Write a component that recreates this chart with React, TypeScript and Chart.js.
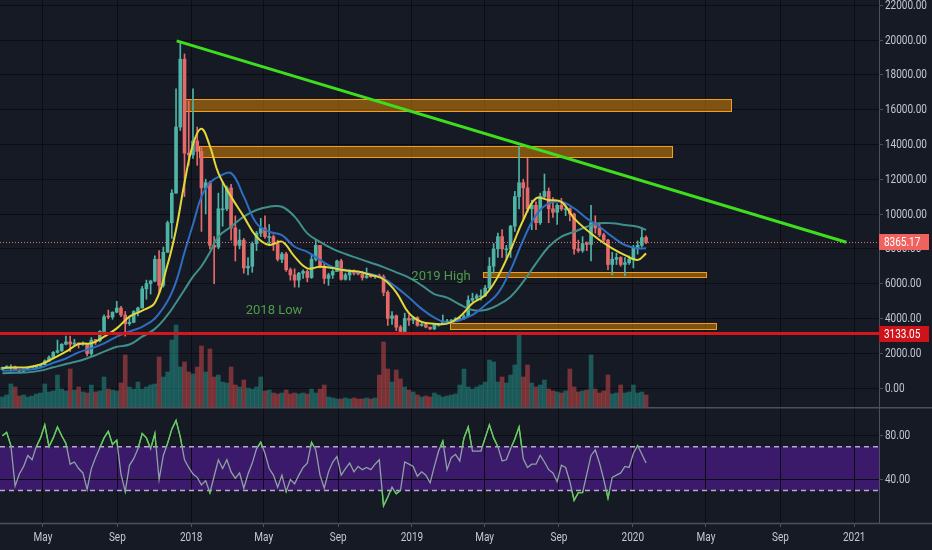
import { useEffect, useRef } from "react";
import Chart from "chart.js/auto";

// ---- colours / fonts ----
const BG = "#161a25";
const GRID = "#0b0d13";
const AXIS = "#4c505b";
const TEXT = "#c5c8ce";
const LABEL_FONT = "12.5px Roboto";

// ---- view window & time axis ----
const VIEW_FROM = "2017-02-19";
const VIEW_TO = "2021-02-11";
const tickDates = ["2017-05-01", "2017-09-01", "2018-01-01", "2018-05-01", "2018-09-01", "2019-01-01", "2019-05-01", "2019-09-01", "2020-01-01", "2020-05-01", "2020-09-01", "2021-01-01"];
const tickLabels = ["May", "Sep", "2018", "May", "Sep", "2019", "May", "Sep", "2020", "May", "Sep", "2021"];
const priceTicks = [0, 2000, 4000, 6000, 8000, 10000, 12000, 14000, 16000, 18000, 20000, 22000];
const rsiTicks = [40, 80];

// ---- weekly BTC/USD candles, first week starting 2017-02-20 ----
const FIRST_WEEK = "2017-02-20";
const FIRST_OPEN = 1050;
const weekHighs = [
  1210, 1290, 1330, 1260, 1060, 1100, 1210, 1210, 1260, 1350,
  1620, 1850, 2100, 2760, 2550, 2980, 2980, 2800, 2600, 2650,
  2530, 2900, 2800, 3300, 4200, 4480, 4380, 4980, 4700, 4400,
  4100, 4450, 4650, 5850, 6200, 6200, 7600, 7900, 8100, 9600,
  11400, 17200, 19800, 19200, 16500, 17200, 15000, 13900, 12000, 11900,
  8700, 11200, 11800, 11600, 11700, 9900, 9100, 8600, 7500, 8400,
  9000, 9750, 9900, 9400, 8800, 8500, 7800, 7800, 6900, 6850,
  6650, 6800, 6800, 7700, 8500, 8200, 7150, 6600, 6800, 7350,
  7400, 6600, 6800, 6800, 6700, 6700, 6900, 6500, 6500, 6550,
  6500, 5600, 4400, 4200, 3600, 4300, 4200, 4100, 4100, 3750,
  3700, 3500, 3700, 3700, 4200, 3950, 3950, 4050, 4100, 4200,
  5300, 5450, 5400, 5650, 5900, 7500, 8300, 8900, 9100, 8200,
  9350, 11300, 13880, 12000, 13200, 10800, 10700, 11200, 12300, 11500,
  10950, 10600, 10900, 10450, 10350, 10050, 8500, 8700, 8400, 10500,
  9900, 9500, 8900, 8550, 7800, 7750, 7550, 7500, 7600, 8200,
  8450, 9200, 8750,
];
const weekLows = [
  1040, 1170, 970, 1000, 890, 940, 1070, 1160, 1170, 1230,
  1330, 1540, 1680, 2000, 2100, 2480, 2100, 2450, 2300, 2450,
  1850, 1850, 2500, 2650, 3250, 3980, 3950, 4320, 4100, 2980,
  3600, 3750, 4150, 4600, 5100, 5400, 6100, 5500, 5800, 7800,
  8600, 11200, 14800, 11000, 12800, 13200, 12800, 9000, 10000, 8000,
  6000, 8000, 9300, 10200, 8500, 7300, 8000, 6600, 6500, 6650,
  7900, 8700, 8600, 8200, 7900, 7300, 7200, 6700, 6200, 5800,
  5800, 6300, 6100, 6300, 7300, 6900, 6000, 5900, 6300, 6700,
  6200, 6200, 6200, 6500, 6500, 6200, 6300, 6350, 6300, 6350,
  5300, 3600, 3650, 3300, 3200, 3250, 3600, 3700, 3550, 3550,
  3450, 3350, 3350, 3550, 3650, 3750, 3700, 3850, 3950, 3950,
  4100, 4950, 5050, 5050, 5250, 5700, 6600, 7500, 7500, 7450,
  7500, 9000, 10300, 9700, 10100, 9100, 9100, 9400, 10900, 9500,
  9800, 9400, 10200, 9900, 9600, 7700, 7800, 7800, 7900, 7300,
  8900, 8700, 8300, 6800, 6500, 7100, 7000, 6450, 7100, 6900,
  7700, 8100, 8300,
];
const weekCloses = [
  1190, 1230, 1230, 1020, 965, 1085, 1170, 1180, 1250, 1340,
  1560, 1760, 2050, 2150, 2520, 2650, 2520, 2590, 2500, 2520,
  1980, 2750, 2730, 3250, 4100, 4080, 4360, 4600, 4200, 3700,
  3780, 4400, 4600, 5700, 6000, 6150, 7400, 5900, 7800, 9500,
  11200, 15000, 18900, 13500, 13400, 14200, 13600, 11500, 11800, 8200,
  8100, 10300, 10300, 11500, 9200, 8200, 8500, 6900, 7000, 8300,
  8900, 9200, 8700, 8700, 8300, 7400, 7700, 6800, 6500, 6200,
  6600, 6700, 6350, 7400, 8200, 7000, 6300, 6500, 6700, 7300,
  6250, 6500, 6700, 6600, 6550, 6350, 6450, 6400, 6450, 6400,
  5500, 4000, 4150, 3500, 3250, 4000, 3900, 4050, 3600, 3650,
  3500, 3400, 3650, 3650, 3850, 3850, 3900, 4000, 4000, 4100,
  5050, 5150, 5300, 5300, 5750, 7000, 8000, 8700, 8000, 8000,
  9300, 11000, 11800, 11500, 10300, 10500, 9500, 11000, 11300, 10300,
  10100, 10500, 10300, 10300, 10000, 8000, 7900, 8300, 8250, 9500,
  9200, 8800, 8500, 7100, 7400, 7500, 7100, 7200, 7400, 8050,
  8200, 8650, 8365.17,
];
// relative volume
const weekVolumes = [
  10, 12, 23, 20, 11, 12, 10, 11, 13, 14,
  23, 15, 16, 32, 18, 16, 38, 17, 20, 15,
  14, 22, 15, 16, 30, 18, 17, 16, 24, 52,
  20, 18, 25, 18, 20, 22, 23, 50, 30, 35,
  67, 82, 40, 45, 35, 33, 40, 61, 35, 58,
  30, 32, 25, 24, 40, 22, 20, 27, 19, 18,
  20, 30, 16, 17, 14, 13, 14, 17, 13, 14,
  13, 14, 13, 18, 14, 18, 22, 10, 9, 8,
  8, 9, 8, 9, 8, 8, 9, 8, 9, 32,
  65, 38, 25, 37, 28, 20, 17, 15, 12, 10,
  11, 10, 14, 12, 10, 11, 12, 13, 22, 38,
  20, 18, 20, 22, 25, 47, 45, 25, 30, 24,
  32, 42, 73, 30, 42, 24, 20, 22, 27, 18,
  16, 15, 14, 16, 38, 20, 15, 16, 17, 52,
  18, 14, 16, 32, 13, 14, 22, 14, 15, 22,
  14, 15, 12,
];
const weekRsi = [
  80, 83, 71, 34, 45, 52, 62, 58, 70, 78,
  90, 70, 78, 88, 80, 73, 54, 56, 50, 46,
  31, 50, 60, 69, 78, 84, 72, 76, 45, 29,
  53, 59, 68, 82, 78, 68, 82, 40, 62, 73,
  86, 94, 79, 58, 51, 45, 42, 35, 39, 28,
  43, 58, 50, 58, 47, 41, 46, 32, 45, 55,
  68, 74, 64, 50, 44, 33, 44, 29, 40, 36,
  44, 51, 55, 74, 67, 44, 32, 47, 56, 61,
  44, 50, 55, 47, 52, 49, 51, 49, 54, 58,
  16, 24, 33, 27, 30, 56, 54, 52, 43, 47,
  44, 37, 52, 66, 75, 49, 60, 63, 57, 78,
  88, 66, 66, 66, 78, 90, 78, 70, 57, 58,
  68, 77, 88, 59, 51, 54, 54, 62, 56, 49,
  46, 38, 53, 51, 38, 21, 28, 28, 45, 62,
  67, 55, 40, 23, 42, 44, 46, 52, 51, 64,
  71, 63, 55,
];

// ---- moving averages (read at these weeks) ----
const maWeeks = [0, 3, 6, 9, 12, 15, 18, 21, 24, 27, 30, 33, 36, 39, 41, 43, 45, 47, 49, 51, 54, 57, 60, 63, 66, 69, 72, 75, 78, 81, 84, 87, 90, 93, 96, 99, 102, 105, 108, 111, 114, 117, 120, 123, 126, 129, 132, 135, 138, 141, 144, 147, 150, 152];
const maFast = [1150, 1180, 1200, 1360, 1700, 2090, 2530, 2570, 2950, 3430, 4100, 4450, 4900, 7100, 9100, 11800, 14000, 14900, 13900, 12350, 11000, 9850, 8700, 8220, 8410, 7550, 6880, 6970, 6900, 6750, 6700, 6500, 6250, 5500, 4300, 3800, 3700, 3700, 4100, 4870, 5340, 6400, 7930, 9660, 10900, 10800, 10700, 9750, 9080, 8510, 8030, 7640, 7360, 7740];
const maMid = [1000, 1020, 1050, 1170, 1450, 1700, 2050, 2280, 2570, 2950, 3250, 3520, 4000, 5000, 6100, 7800, 9400, 11000, 11800, 12140, 12350, 11000, 9470, 8980, 8790, 8120, 7830, 7360, 6950, 6800, 6650, 6550, 6300, 5800, 5200, 4550, 4050, 3750, 3900, 4200, 4770, 5440, 6780, 8510, 9940, 10610, 10700, 10330, 9750, 9270, 8700, 8220, 8030, 8030];
const maSlow = [850, 880, 900, 1000, 1190, 1380, 1550, 1800, 2090, 2370, 2500, 2950, 3400, 4200, 4900, 5650, 6400, 7000, 7800, 8700, 9270, 9850, 10230, 10420, 10420, 9850, 8890, 8400, 8000, 7700, 7450, 7200, 6950, 6650, 6350, 5900, 5400, 5200, 4800, 4480, 4480, 4770, 5250, 6110, 7160, 8120, 8700, 8980, 9270, 9470, 9470, 9370, 9270, 9080];

// ---- drawings ----
const zoneFrom = ["2017-12-22", "2018-01-14", "2019-04-28", "2019-03-05"];
const zoneTo = ["2020-06-12", "2020-03-06", "2020-05-01", "2020-05-18"];
const zoneTop = [16610, 13910, 6670, 3740];
const zoneBottom = [15920, 13270, 6380, 3390];

const trendDates = ["2017-12-08", "2020-12-19"];
const trendPrices = [19950, 8380];

const SUPPORT = 3133.05;
const LAST_PRICE = 8365.17;

const noteTexts = ["2018 Low", "2019 High"];
const noteDates = ["2018-05-18", "2019-02-18"];
const notePrices = [4430, 6380];

const RSI_UPPER = 70;
const RSI_LOWER = 30;

// ---- helpers ----
const dayOf = (s: string) =>
  (Date.parse(s + "T00:00:00Z") - Date.parse("2017-01-01T00:00:00Z")) / 86400000;
const weekDay = (i: number) => dayOf(FIRST_WEEK) + 7 * i + 3;

const opens = weekCloses.map((_, i) => (i === 0 ? FIRST_OPEN : weekCloses[i - 1]));
const isUp = weekCloses.map((c, i) => c >= opens[i]);
const candleColors = isUp.map(u => (u ? "#4fb3a6" : "#e46a69"));
const volumeColors = isUp.map(u => (u ? "rgba(38,166,154,0.45)" : "rgba(239,83,80,0.45)"));

// TradingView-like narrow labels
const narrowText = (ctx: CanvasRenderingContext2D, text: string, x: number, y: number, align: CanvasTextAlign, color: string) => {
  ctx.save();
  ctx.translate(x, y);
  ctx.scale(0.8, 1);
  ctx.font = LABEL_FONT;
  ctx.fillStyle = color;
  ctx.textAlign = align;
  ctx.textBaseline = "middle";
  ctx.fillText(text, 0, 0);
  ctx.restore();
};

const noPadding = (s: any) => {
  s.paddingTop = 0;
  s.paddingBottom = 0;
  s.paddingLeft = 0;
  s.paddingRight = 0;
};

const xScale = (withAxis: boolean) => ({
  type: "linear",
  min: dayOf(VIEW_FROM),
  max: dayOf(VIEW_TO),
  offset: false,
  grid: { color: GRID, offset: false, drawTicks: withAxis, tickLength: 4, tickColor: AXIS },
  border: { display: withAxis, color: AXIS },
  ticks: { display: false, autoSkip: false },
  afterBuildTicks: (s: any) => {
    s.ticks = tickDates.map(t => ({ value: dayOf(t) }));
  },
  afterFit: (s: any) => {
    s.height = withAxis ? 27 : 0;
    noPadding(s);
  },
});

const valueAxis = (min: number, max: number, ticks: number[]) => ({
  position: "right",
  min,
  max,
  grid: { color: GRID, tickColor: AXIS, tickLength: 4 },
  border: { color: AXIS },
  ticks: { display: false },
  afterBuildTicks: (s: any) => {
    s.ticks = ticks.map(v => ({ value: v }));
  },
  afterFit: (s: any) => {
    s.width = 53;
    noPadding(s);
  },
});

const axisLabels = {
  id: "axisLabels",
  afterDraw(chart: any) {
    const { ctx, scales, chartArea } = chart;
    scales.y.ticks.forEach((t: any) => {
      narrowText(ctx, t.value.toFixed(2), chartArea.right + 6, scales.y.getPixelForValue(t.value) + 0.5, "left", TEXT);
    });
    if (scales.x.options.border.display) {
      scales.x.ticks.forEach((t: any, i: number) => {
        narrowText(ctx, tickLabels[i], scales.x.getPixelForValue(t.value), chartArea.bottom + 15, "center", TEXT);
      });
    }
  },
};

const line = (data: { x: number; y: number }[], color: string, width: number, order: number, extra = {}) => ({
  type: "line",
  data,
  borderColor: color,
  borderWidth: width,
  pointRadius: 0,
  order,
  ...extra,
});

// zones under the candles, notes over them, price tags on the axis
const priceDrawings = {
  id: "priceDrawings",
  beforeDatasetsDraw(chart: any) {
    const { ctx, scales } = chart;
    ctx.save();
    zoneFrom.forEach((from, k) => {
      const x1 = Math.round(scales.x.getPixelForValue(dayOf(from)));
      const x2 = Math.round(scales.x.getPixelForValue(dayOf(zoneTo[k])));
      const y1 = Math.round(scales.y.getPixelForValue(zoneTop[k]));
      const y2 = Math.round(scales.y.getPixelForValue(zoneBottom[k]));
      ctx.fillStyle = "rgba(255,152,0,0.45)";
      ctx.fillRect(x1, y1, x2 - x1, y2 - y1);
      ctx.strokeStyle = "#f59d1a";
      ctx.lineWidth = 1;
      ctx.strokeRect(x1 + 0.5, y1 + 0.5, x2 - x1, y2 - y1);
    });
    ctx.restore();
  },
  afterDatasetsDraw(chart: any) {
    const { ctx, scales } = chart;
    ctx.save();
    ctx.font = "13px Roboto";
    ctx.fillStyle = "#4f9c4a";
    ctx.textAlign = "center";
    ctx.textBaseline = "middle";
    noteTexts.forEach((t, k) => {
      ctx.fillText(t, scales.x.getPixelForValue(dayOf(noteDates[k])), scales.y.getPixelForValue(notePrices[k]));
    });
    ctx.restore();
  },
  afterDraw(chart: any) {
    const { ctx, scales, chartArea } = chart;
    [
      { v: LAST_PRICE, bg: "#f0625f" },
      { v: SUPPORT, bg: "#d0121a" },
    ].forEach(tag => {
      const y = Math.round(scales.y.getPixelForValue(tag.v));
      ctx.fillStyle = tag.bg;
      ctx.fillRect(chartArea.right, y - 8, 50, 16);
      narrowText(ctx, tag.v.toFixed(2), chartArea.right + 5, y + 0.5, "left", "#ffffff");
    });
  },
};

const rsiDrawings = {
  id: "rsiDrawings",
  beforeDraw(chart: any) {
    const { ctx, scales, chartArea } = chart;
    const yTop = scales.y.getPixelForValue(RSI_UPPER);
    const yBot = scales.y.getPixelForValue(RSI_LOWER);
    ctx.save();
    ctx.fillStyle = "#3b1a6b";
    ctx.fillRect(chartArea.left, yTop, chartArea.right - chartArea.left, yBot - yTop);
    ctx.restore();
  },
  beforeDatasetsDraw(chart: any) {
    const { ctx, scales, chartArea } = chart;
    ctx.save();
    ctx.strokeStyle = "#b7a9cc";
    ctx.lineWidth = 1.5;
    ctx.setLineDash([5, 4]);
    [RSI_UPPER, RSI_LOWER].forEach(v => {
      const y = scales.y.getPixelForValue(v);
      ctx.beginPath();
      ctx.moveTo(chartArea.left, y);
      ctx.lineTo(chartArea.right, y);
      ctx.stroke();
    });
    ctx.restore();
  },
  beforeDatasetDraw(chart: any, args: any) {
    if (args.index !== 1) return;
    const { ctx, scales, chartArea } = chart;
    const yTop = scales.y.getPixelForValue(RSI_UPPER);
    const yBot = scales.y.getPixelForValue(RSI_LOWER);
    const w = chartArea.right - chartArea.left;
    ctx.save();
    ctx.beginPath();
    ctx.rect(chartArea.left, chartArea.top, w, yTop - chartArea.top);
    ctx.rect(chartArea.left, yBot, w, chartArea.bottom - yBot);
    ctx.clip();
  },
  afterDatasetDraw(chart: any, args: any) {
    if (args.index !== 1) return;
    chart.ctx.restore();
  },
  afterDraw(chart: any) {
    const { ctx, chartArea, width } = chart;
    ctx.save();
    ctx.strokeStyle = AXIS;
    ctx.lineWidth = 1.5;
    ctx.beginPath();
    ctx.moveTo(0, 0.75);
    ctx.lineTo(width, 0.75);
    ctx.moveTo(0, chartArea.bottom + 0.5);
    ctx.lineTo(width, chartArea.bottom + 0.5);
    ctx.stroke();
    ctx.restore();
  },
};

const PriceChart = () => {
  const canvasRef = useRef<HTMLCanvasElement | null>(null);

  useEffect(() => {
    if (!canvasRef.current) return;
    const xMin = dayOf(VIEW_FROM);
    const xMax = dayOf(VIEW_TO);
    const maPoints = (vals: number[]) => maWeeks.map((w, k) => ({ x: weekDay(w), y: vals[k] }));

    const chart = new Chart(canvasRef.current, {
      type: "bar",
      data: {
        datasets: [
          line(trendDates.map((d, k) => ({ x: dayOf(d), y: trendPrices[k] })), "#3ede1e", 3, 0),
          line([{ x: xMin, y: SUPPORT }, { x: xMax, y: SUPPORT }], "#d3171c", 3, 1),
          line([{ x: xMin, y: LAST_PRICE }, { x: xMax, y: LAST_PRICE }], "#e57373", 1, 2, { borderDash: [1, 2] }),
          line(maPoints(maFast), "#e3d83a", 2, 3, { tension: 0.4 }),
          line(maPoints(maMid), "#2d6ec2", 2, 4, { tension: 0.4 }),
          line(maPoints(maSlow), "#3f8f8a", 2, 5, { tension: 0.4 }),
          {
            type: "bar",
            data: weekCloses.map((c, i) => ({ x: weekDay(i), y: [opens[i], c] })),
            backgroundColor: candleColors,
            barThickness: 3,
            minBarLength: 1,
            grouped: false,
            order: 6,
          },
          {
            type: "bar",
            data: weekHighs.map((h, i) => ({ x: weekDay(i), y: [weekLows[i], h] })),
            backgroundColor: candleColors,
            barThickness: 1,
            grouped: false,
            order: 7,
          },
          {
            type: "bar",
            data: weekVolumes.map((v, i) => ({ x: weekDay(i), y: v })),
            backgroundColor: volumeColors,
            barThickness: 4,
            grouped: false,
            yAxisID: "vol",
            order: 8,
          },
        ],
      } as any,
      options: {
        animation: false,
        responsive: true,
        maintainAspectRatio: false,
        events: [],
        layout: { padding: 0, autoPadding: false },
        plugins: { legend: { display: false }, tooltip: { enabled: false } },
        scales: {
          x: xScale(false),
          y: valueAxis(-1090, 22300, priceTicks),
          vol: { axis: "y", type: "linear", position: "left", display: false, min: 0, max: 407 },
        },
      } as any,
      plugins: [axisLabels, priceDrawings],
    });

    return () => {
      chart.destroy();
    };
  }, []);

  return (
    <div style={{ position: "relative", width: 932, height: 407 }}>
      <canvas ref={canvasRef} />
    </div>
  );
};

const RsiChart = () => {
  const canvasRef = useRef<HTMLCanvasElement | null>(null);

  useEffect(() => {
    if (!canvasRef.current) return;
    const points = weekRsi.map((v, i) => ({ x: weekDay(i), y: v }));

    const chart = new Chart(canvasRef.current, {
      type: "line",
      data: {
        datasets: [
          line(points, "#8ea2a3", 1.3, 1),
          line(points, "#5fd155", 1.3, 0),
        ],
      } as any,
      options: {
        animation: false,
        responsive: true,
        maintainAspectRatio: false,
        events: [],
        layout: { padding: { top: 1 }, autoPadding: false },
        plugins: { legend: { display: false }, tooltip: { enabled: false } },
        scales: {
          x: xScale(true),
          y: valueAxis(0.3, 105.3, rsiTicks),
        },
      } as any,
      plugins: [rsiDrawings, axisLabels],
    });

    return () => {
      chart.destroy();
    };
  }, []);

  return (
    <div style={{ position: "relative", width: 932, height: 143 }}>
      <canvas ref={canvasRef} />
    </div>
  );
};

export default function App() {
  return (
    <div style={{ position: "absolute", left: 0, top: 0, width: 932, height: 550, background: BG, overflow: "hidden" }}>
      <PriceChart />
      <RsiChart />
    </div>
  );
}
